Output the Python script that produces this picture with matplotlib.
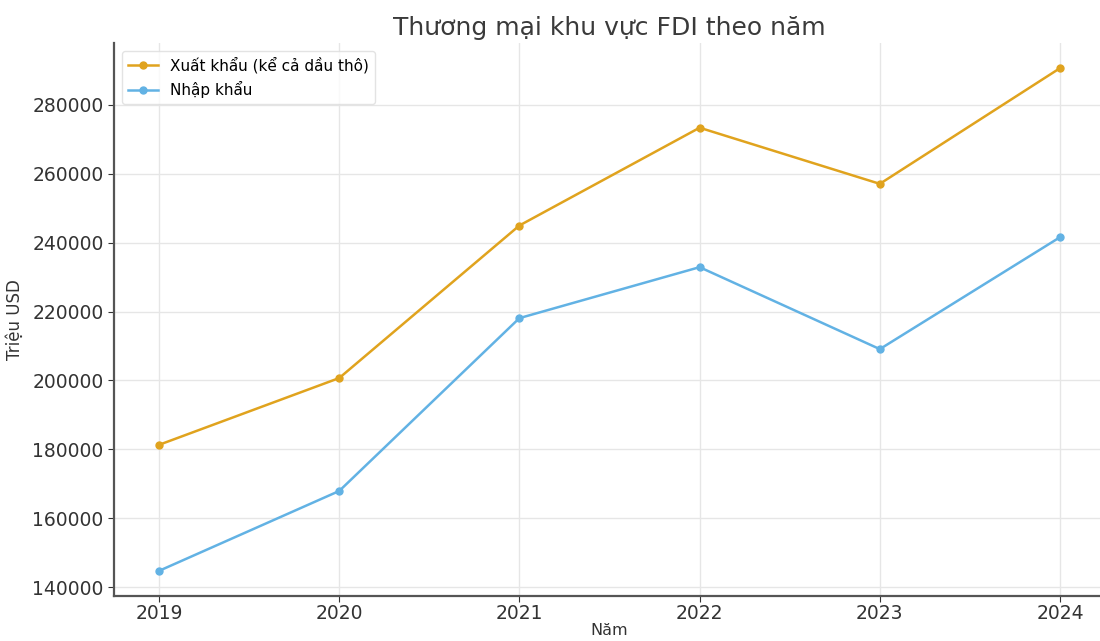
import matplotlib.pyplot as plt

# Trade of the FDI sector by year (million USD)
years = [2019, 2020, 2021, 2022, 2023, 2024]
xuat_khau = [181300, 200700, 245000, 273400, 257100, 290700]
nhap_khau = [144700, 167900, 218100, 232900, 209100, 241600]

fig = plt.figure(figsize=(11, 6.41), dpi=100)
ax = fig.add_axes([0.1036, 0.0702, 0.901, 0.8627])

ax.plot(years, xuat_khau, marker='o', markersize=5, linewidth=1.8,
        color='#E0A31E', label='Xuất khẩu (kể cả dầu thô)')
ax.plot(years, nhap_khau, marker='o', markersize=5, linewidth=1.8,
        color='#62B2E4', label='Nhập khẩu')

ax.set_title('Thương mại khu vực FDI theo năm', fontsize=18, color='#3a3a3a', pad=6)
ax.set_xlabel('Năm', fontsize=11.5, color='#333333', labelpad=0)
ax.set_ylabel('Triệu USD', fontsize=12, color='#333333', labelpad=6)

ax.set_xticks(years)
ax.tick_params(labelsize=13.5, colors='#333333', length=4)
ax.tick_params(axis='x', pad=2)
ax.grid(True, color='#e6e6e6', linewidth=1)
ax.set_axisbelow(True)

for side in ['top', 'right']:
    ax.spines[side].set_visible(False)
for side in ['left', 'bottom']:
    ax.spines[side].set_color('#555555')
    ax.spines[side].set_linewidth(1.6)

ax.legend(loc='upper left', fontsize=11, frameon=True, edgecolor='#dddddd')

fig.savefig('out.png', dpi=100)
